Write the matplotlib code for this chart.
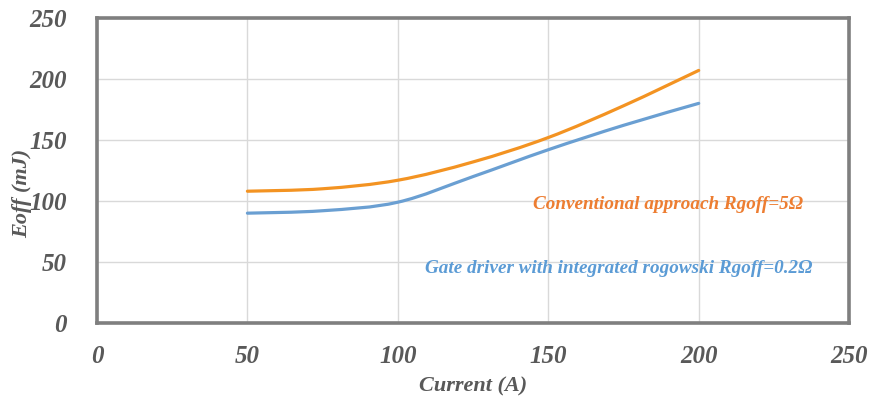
import numpy as np
import matplotlib.pyplot as plt
from matplotlib.path import Path
from matplotlib.patches import PathPatch

# Eoff vs current
current = [50, 75, 100, 125, 150, 175, 200]
eoff_conventional = [108, 110, 117, 132, 152, 178, 207]
eoff_rogowski = [90, 92, 99, 120, 142, 162, 180]

x_ticks = [0, 50, 100, 150, 200, 250]
y_ticks = [0, 50, 100, 150, 200, 250]

label_conv = "Conventional approach Rgoff=5\u03a9"
label_rog = "Gate driver with integrated rogowski Rgoff=0.2\u03a9"

c_orange = "#F39322"
c_blue = "#6A9FD2"
c_text = "#595959"


def smooth_path(xs, ys):
    # Excel-style smooth line: Catmull-Rom turned into cubic Bezier segments
    pts = np.column_stack([xs, ys]).astype(float)
    n = len(pts)
    verts = [pts[0]]
    codes = [Path.MOVETO]
    for i in range(n - 1):
        p0 = pts[i - 1] if i > 0 else pts[i]
        p1, p2 = pts[i], pts[i + 1]
        p3 = pts[i + 2] if i + 2 < n else pts[i + 1]
        c1 = p1 + (p2 - p0) / 6.0
        c2 = p2 - (p3 - p1) / 6.0
        verts += [c1, c2, p2]
        codes += [Path.CURVE4] * 3
    return Path(verts, codes)


fig = plt.figure(figsize=(8.7, 3.99), dpi=100)
ax = fig.add_axes([0.1115, 0.1905, 0.8645, 0.7645])

for ys, col in [(eoff_conventional, c_orange), (eoff_rogowski, c_blue)]:
    ax.add_patch(PathPatch(smooth_path(current, ys), facecolor="none",
                           edgecolor=col, linewidth=2.3, capstyle="round", zorder=3))

ax.set_xlim(0, 250)
ax.set_ylim(0, 250)
ax.set_xticks(x_ticks)
ax.set_yticks(y_ticks)
ax.grid(True, color="#D9D9D9", linewidth=1.0, zorder=0)
ax.set_axisbelow(True)
ax.tick_params(length=0, colors=c_text)
ax.tick_params(axis="y", pad=22)
ax.tick_params(axis="x", pad=16)

font = dict(family="Liberation Serif", weight="bold", style="italic")
for lab in ax.get_xticklabels() + ax.get_yticklabels():
    lab.set_fontfamily("Liberation Serif")
    lab.set_fontweight("bold")
    lab.set_fontstyle("italic")
    lab.set_fontsize(18)
    lab.set_color(c_text)

for side in ["top", "bottom", "left", "right"]:
    ax.spines[side].set_color("#7F7F7F")
    ax.spines[side].set_linewidth(2.6)

ax.set_xlabel("Current (A)", fontsize=16, color=c_text, labelpad=6, **font)
ax.set_ylabel("Eoff (mJ)", fontsize=16, color=c_text, **font)
ax.yaxis.set_label_coords(-0.086, 0.426)

ax.text(145, 97, label_conv, color="#ED7D31", fontsize=13.8, va="center", **font)
ax.text(109, 45, label_rog, color="#5B9BD5", fontsize=13.8, va="center", **font)

fig.savefig("out.png", dpi=100)
